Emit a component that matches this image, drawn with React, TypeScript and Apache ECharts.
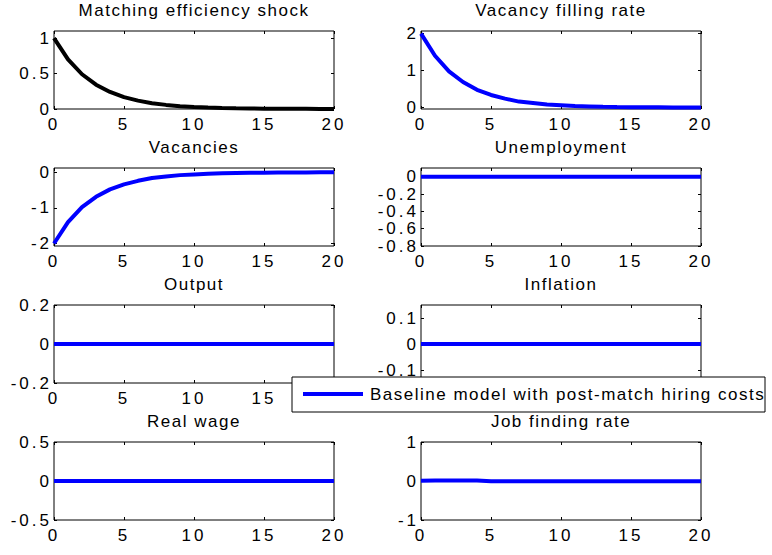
import React, { useEffect, useRef } from "react";
import * as echarts from "echarts";

// ---- data ----
const periods = [0, 1, 2, 3, 4, 5, 6, 7, 8, 9, 10, 11, 12, 13, 14, 15, 16, 17, 18, 19, 20];
const xTicks = [0, 5, 10, 15, 20];
// x labels left visible (the legend box hides the rest in the reference)
const xLabelsOutput = [0, 5, 10, 15];
const xLabelsInflation: number[] = [];

const panelTitles = [
  "Matching efficiency shock",
  "Vacancy filling rate",
  "Vacancies",
  "Unemployment",
  "Output",
  "Inflation",
  "Real wage",
  "Job finding rate",
];

const matchingShock = [1.0, 0.7, 0.49, 0.343, 0.24, 0.168, 0.118, 0.082, 0.058, 0.04, 0.028, 0.02, 0.014, 0.01, 0.007, 0.005, 0.003, 0.002, 0.002, 0.001, 0.001];
const vacancyFillingRate = [2.0, 1.4, 0.98, 0.69, 0.48, 0.34, 0.24, 0.16, 0.12, 0.08, 0.06, 0.04, 0.03, 0.02, 0.014, 0.01, 0.007, 0.005, 0.003, 0.002, 0.002];
const vacancies = [-2.0, -1.4, -0.98, -0.69, -0.48, -0.34, -0.24, -0.16, -0.12, -0.08, -0.06, -0.04, -0.03, -0.02, -0.014, -0.01, -0.007, -0.005, -0.003, -0.002, -0.002];
const unemployment = [0, 0, 0, 0, 0, 0, 0, 0, 0, 0, 0, 0, 0, 0, 0, 0, 0, 0, 0, 0, 0];
const output = [0, 0, 0, 0, 0, 0, 0, 0, 0, 0, 0, 0, 0, 0, 0, 0, 0, 0, 0, 0, 0];
const inflation = [0, 0, 0, 0, 0, 0, 0, 0, 0, 0, 0, 0, 0, 0, 0, 0, 0, 0, 0, 0, 0];
const realWage = [0, 0, 0, 0, 0, 0, 0, 0, 0, 0, 0, 0, 0, 0, 0, 0, 0, 0, 0, 0, 0];
const jobFindingRate = [0.005, 0.015, 0.015, 0.015, 0.01, -0.005, -0.005, -0.005, -0.005, -0.005, -0.005, -0.005, -0.005, -0.005, -0.005, -0.005, -0.005, -0.005, -0.005, -0.005, -0.005];

const yTicksMatching = [0, 0.5, 1];
const yTicksVacFill = [0, 1, 2];
const yTicksVacancies = [-2, -1, 0];
const yTicksUnemp = [-0.8, -0.6, -0.4, -0.2, 0];
const yTicksOutput = [-0.2, 0, 0.2];
const yTicksInflation = [-0.1, 0, 0.1];
const yTicksWage = [-0.5, 0, 0.5];
const yTicksJobFind = [-1, 0, 1];

const yRanges = [
  [0, 1.1],
  [-0.04, 2.07],
  [-2.07, 0.12],
  [-0.8, 0.1],
  [-0.2, 0.2],
  [-0.15, 0.15],
  [-0.5, 0.5],
  [-1, 1],
];

const legendLabel = "Baseline model with post-match hiring costs";

const seriesData = [matchingShock, vacancyFillingRate, vacancies, unemployment, output, inflation, realWage, jobFindingRate];
const seriesTicks = [yTicksMatching, yTicksVacFill, yTicksVacancies, yTicksUnemp, yTicksOutput, yTicksInflation, yTicksWage, yTicksJobFind];
const seriesXLabels = [xTicks, xTicks, xTicks, xTicks, xLabelsOutput, xLabelsInflation, xTicks, xTicks];
const seriesColors = ["#000000", "#0000ff", "#0000ff", "#0000ff", "#0000ff", "#0000ff", "#0000ff", "#0000ff"];

// ---- layout ----
const FONT = "'Liberation Sans', Arial, sans-serif";
const TICK_FONT = "'Liberation Sans', Helvetica, sans-serif";
const FS = 17;
const colLefts = [54, 421];
const rowTops = [31, 168, 305, 442];
const GW = 280;
const GH = 78;

export default function App() {
  const ref = useRef<HTMLDivElement>(null);

  useEffect(() => {
    document.body.style.margin = "0";
    if (!ref.current) return;
    const chart = echarts.init(ref.current, undefined, { renderer: "svg" });

    const grids: any[] = [];
    const xAxes: any[] = [];
    const yAxes: any[] = [];
    const series: any[] = [];
    const graphics: any[] = [];

    for (let i = 0; i < 8; i++) {
      const left = colLefts[i % 2];
      const top = rowTops[Math.floor(i / 2)];
      grids.push({
        left,
        top,
        width: GW,
        height: GH,
        show: true,
        borderColor: "#000",
        borderWidth: 1,
        backgroundColor: "#fff",
        containLabel: false,
      });
      const ticks = seriesTicks[i];
      const [ymin, ymax] = yRanges[i];
      const xLabels = seriesXLabels[i];
      xAxes.push({
        type: "value",
        gridIndex: i,
        position: "bottom",
        min: 0,
        max: 20,
        axisLine: { show: false, onZero: false },
        splitLine: { show: false },
        axisTick: { show: true, inside: true, length: 3, customValues: xTicks, lineStyle: { color: "#000" } },
        axisLabel: {
          show: xLabels.length > 0,
          customValues: xLabels.length > 0 ? xLabels : xTicks,
          margin: 7,
          color: "#000",
          fontSize: FS,
          fontFamily: TICK_FONT,
        },
      });
      xAxes.push({
        type: "value",
        gridIndex: i,
        position: "top",
        min: 0,
        max: 20,
        axisLine: { show: false, onZero: false },
        splitLine: { show: false },
        axisTick: { show: true, inside: true, length: 3, customValues: xTicks, lineStyle: { color: "#000" } },
        axisLabel: { show: false },
      });
      yAxes.push({
        type: "value",
        gridIndex: i,
        position: "left",
        min: ymin,
        max: ymax,
        axisLine: { show: false, onZero: false },
        splitLine: { show: false },
        axisTick: { show: true, inside: true, length: 3, customValues: ticks, lineStyle: { color: "#000" } },
        axisLabel: { show: true, customValues: ticks, margin: 2, color: "#000", fontSize: FS, fontFamily: TICK_FONT },
      });
      yAxes.push({
        type: "value",
        gridIndex: i,
        position: "right",
        min: ymin,
        max: ymax,
        axisLine: { show: false, onZero: false },
        splitLine: { show: false },
        axisTick: { show: true, inside: true, length: 3, customValues: ticks, lineStyle: { color: "#000" } },
        axisLabel: { show: false },
      });
      series.push({
        type: "line",
        xAxisIndex: 2 * i,
        yAxisIndex: 2 * i,
        data: periods.map((p, k) => [p, seriesData[i][k]]),
        showSymbol: false,
        symbol: "none",
        clip: false,
        lineStyle: { color: seriesColors[i], width: 4 },
        z: 3,
      });
      graphics.push({
        type: "text",
        x: left + GW / 2,
        y: top - 21,
        z: 50,
        style: {
          text: panelTitles[i],
          textAlign: "center",
          textVerticalAlign: "middle",
          fill: "#000",
          fontSize: FS,
          fontFamily: FONT,
        },
      });
    }

    graphics.push({
      type: "group",
      z: 100,
      children: [
        {
          type: "rect",
          z: 100,
          shape: { x: 292, y: 377, width: 473, height: 35 },
          style: { fill: "#fff", stroke: "#000", lineWidth: 1 },
        },
        {
          type: "line",
          z: 101,
          shape: { x1: 303, y1: 394, x2: 363, y2: 394 },
          style: { stroke: "#0000ff", lineWidth: 4 },
        },
        {
          type: "text",
          z: 101,
          x: 370,
          y: 394,
          style: {
            text: legendLabel,
            textAlign: "left",
            textVerticalAlign: "middle",
            fill: "#000",
            fontSize: FS,
            fontFamily: FONT,
          },
        },
      ],
    });

    chart.setOption({
      animation: false,
      backgroundColor: "#fff",
      grid: grids,
      xAxis: xAxes,
      yAxis: yAxes,
      series,
      graphic: graphics,
    });

    return () => chart.dispose();
  }, []);

  return (
    <>
      <style>{`.irf-chart text { letter-spacing: 1.5px; } .irf-chart text[style*="Helvetica"] { letter-spacing: 3px; }`}</style>
      <div className="irf-chart" ref={ref} style={{ width: 772, height: 555 }} />
    </>
  );
}
